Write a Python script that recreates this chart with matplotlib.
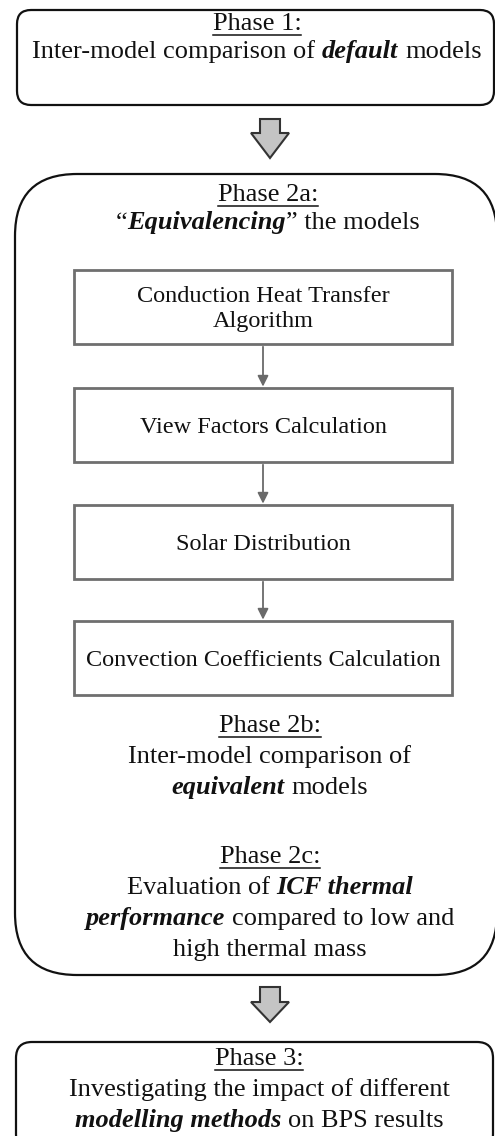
import matplotlib.pyplot as plt
from matplotlib.patches import FancyBboxPatch, Rectangle, Polygon

# text content of the flowchart (segment, emphasised?)
phase1_title = "Phase 1:"
phase1_lines = [[("Inter-model comparison of ", 0), ("default", 1), (" models", 0)]]

phase2a_title = "Phase 2a:"
phase2a_lines = [[("\u201c", 0), ("Equivalencing", 1), ("\u201d the models", 0)]]

steps = [
    ["Conduction Heat Transfer", "Algorithm"],
    ["View Factors Calculation"],
    ["Solar Distribution"],
    ["Convection Coefficients Calculation"],
]

phase2b_title = "Phase 2b:"
phase2b_lines = [
    [("Inter-model comparison of", 0)],
    [("equivalent", 1), (" models", 0)],
]

phase2c_title = "Phase 2c:"
phase2c_lines = [
    [("Evaluation of ", 0), ("ICF thermal", 1)],
    [("performance", 1), (" compared to low and", 0)],
    [("high thermal mass", 0)],
]

phase3_title = "Phase 3:"
phase3_lines = [
    [("Investigating the impact of different", 0)],
    [("modelling methods", 1), (" on BPS results", 0)],
]

FONT = "Liberation Serif"
W, H = 495, 1136

fig = plt.figure(figsize=(W / 100, H / 100), dpi=100)
ax = fig.add_axes([0, 0, 1, 1])
ax.set_xlim(0, W)
ax.set_ylim(H, 0)
ax.axis("off")
renderer = fig.canvas.get_renderer()


def text_width(txt, size, emph):
    t = ax.text(0, 0, txt, fontsize=size, family=FONT,
                weight="bold" if emph else "normal",
                style="italic" if emph else "normal")
    w = t.get_window_extent(renderer).width
    t.remove()
    return w


def rich_line(xc, y, parts, size, underline=False):
    # lay out mixed regular / bold-italic pieces on one centred line
    space = text_width("a a", size, 0) - text_width("aa", size, 0)
    pieces = []
    total = 0
    for txt, emph in parts:
        lead = len(txt) - len(txt.lstrip(" "))
        trail = len(txt) - len(txt.rstrip(" "))
        core = txt.strip(" ")
        w = text_width(core, size, emph)
        pieces.append((core, emph, lead * space, w, trail * space))
        total += lead * space + w + trail * space
    x = xc - total / 2
    for core, emph, l, w, tr in pieces:
        x += l
        ax.text(x, y, core, fontsize=size, family=FONT, va="baseline", ha="left",
                weight="bold" if emph else "normal",
                style="italic" if emph else "normal", color="#111111")
        x += w + tr
    if underline:
        ax.plot([xc - total / 2, xc + total / 2], [y + 4.5, y + 4.5],
                color="#111111", lw=1.1)


def block(xc, title, lines, y0, step=31, size=19):
    rich_line(xc, y0, [(title, 0)], size, underline=True)
    for i, ln in enumerate(lines):
        rich_line(xc, y0 + step * (i + 1), ln, size)


def rounded(x0, y0, x1, y1, r, lw=1.6):
    ax.add_patch(FancyBboxPatch((x0, y0), x1 - x0, y1 - y0,
                                boxstyle=f"round,pad=0,rounding_size={r}",
                                fc="white", ec="#111111", lw=lw))


def big_arrow(xc, y0, yh, yt, shaft=10, head=19):
    pts = [(xc - shaft, y0), (xc + shaft, y0), (xc + shaft, yh), (xc + head, yh),
           (xc, yt), (xc - head, yh), (xc - shaft, yh)]
    ax.add_patch(Polygon(pts, closed=True, fc="#c4c4c4", ec="#333333", lw=1.5))


# phase 1
rounded(17, 10, 494, 105, 14)
block(257, phase1_title, phase1_lines, 30, step=28)

big_arrow(270, 119, 133, 158)

# phase 2
rounded(15, 174, 497, 975, 62)
block(268, phase2a_title, phase2a_lines, 201, step=28)

box_x0, box_x1 = 74, 452
box_tops = [270, 388, 505, 621]
box_h = 74
xc_in = (box_x0 + box_x1) / 2
for i, lines in enumerate(steps):
    top = box_tops[i]
    ax.add_patch(Rectangle((box_x0, top), box_x1 - box_x0, box_h,
                           fc="white", ec="#6f6f6f", lw=2))
    n = len(lines)
    base0 = top + box_h / 2 + 8 - (n - 1) * 12.5
    for j, ln in enumerate(lines):
        ax.text(xc_in, base0 + 25 * j, ln, fontsize=17.5, family=FONT,
                ha="center", va="baseline", color="#111111")
    if i < len(steps) - 1:
        ax.annotate("", xy=(xc_in, box_tops[i + 1]), xytext=(xc_in, top + box_h),
                    arrowprops=dict(arrowstyle="-|>", color="#6a6a6a", lw=1.3,
                                    mutation_scale=16, shrinkA=2, shrinkB=1))

block(270, phase2b_title, phase2b_lines, 732)
block(270, phase2c_title, phase2c_lines, 863)

big_arrow(270, 987, 1002, 1022)

# phase 3
rounded(16, 1042, 493, 1150, 16)
block(259, phase3_title, phase3_lines, 1065, step=31)

fig.savefig("out.png", dpi=100, facecolor="white")
